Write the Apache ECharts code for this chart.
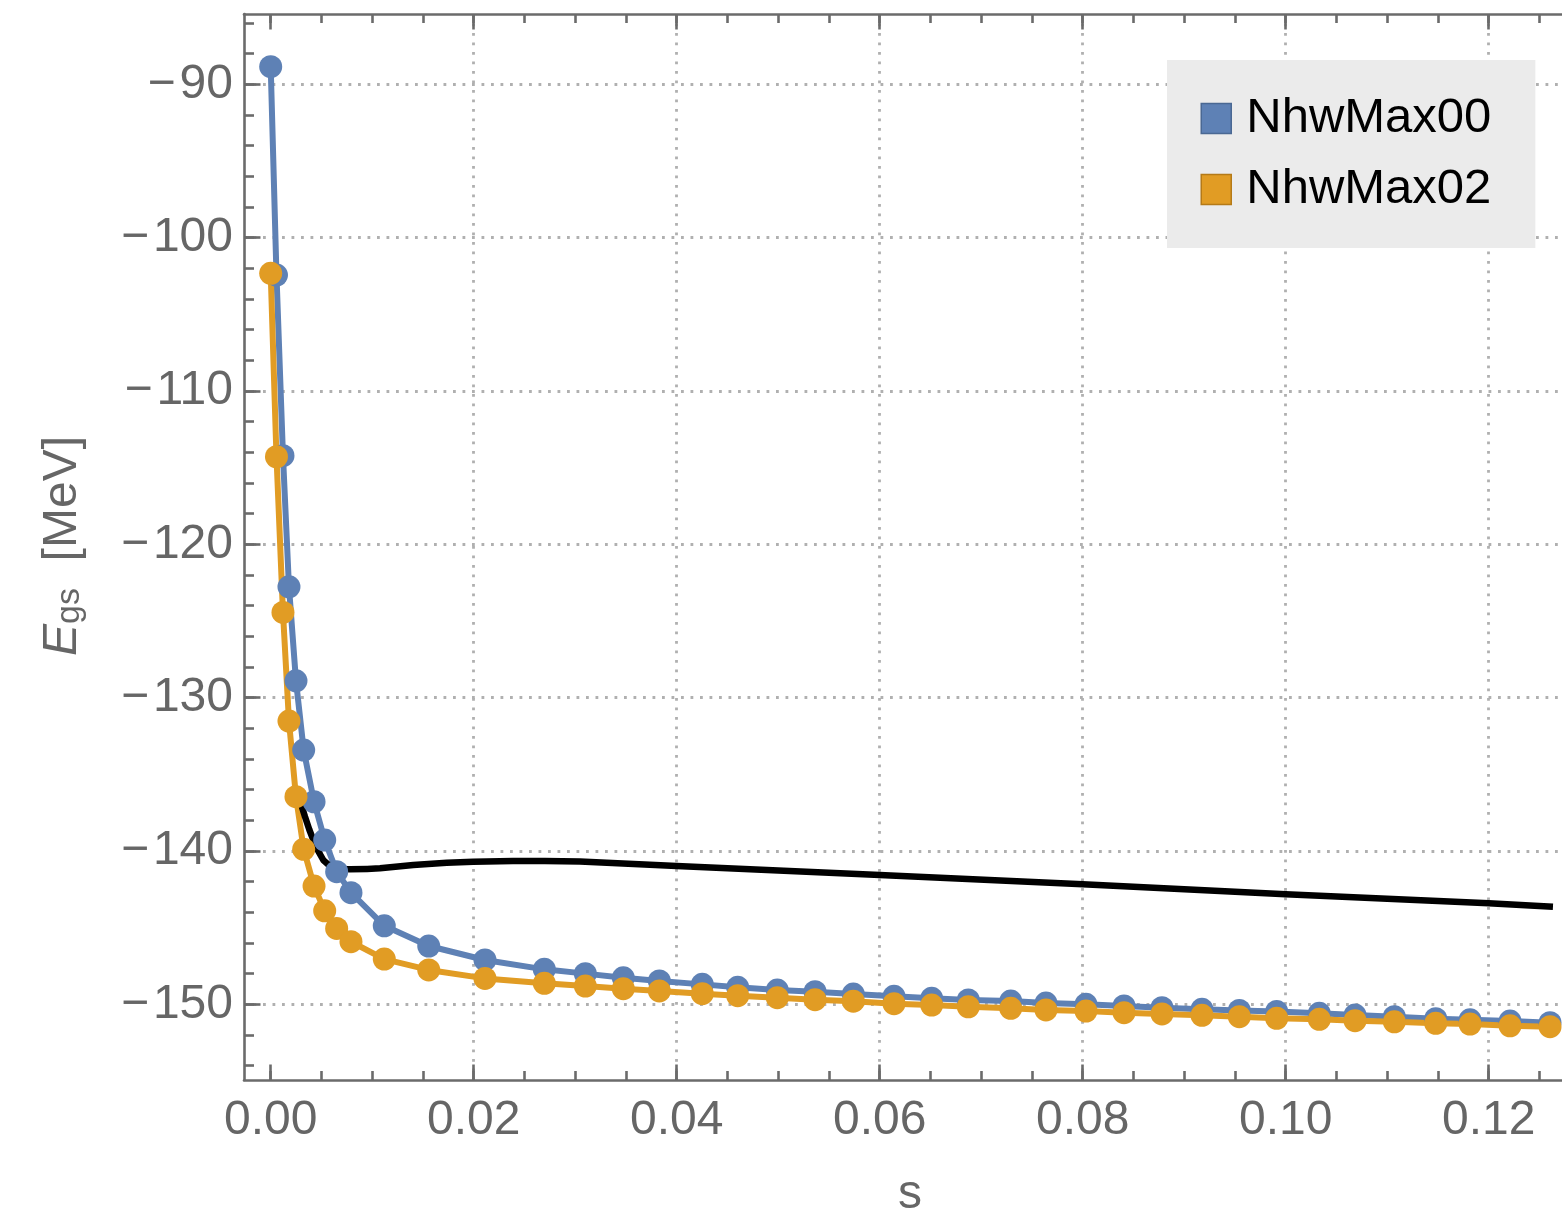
<!DOCTYPE html>
<html><head><meta charset="utf-8">
<script src="https://cdn.jsdelivr.net/npm/echarts@6/dist/echarts.min.js"></script>
<style>html,body{margin:0;padding:0;background:#fff}#c{width:1562px;height:1219px}</style>
</head><body><div id="c"></div>
<script>
// ---- data ----
const sValues = [0, 0.00057, 0.00121, 0.0018, 0.00249, 0.00325, 0.00427, 0.00532, 0.0065, 0.00791,
  0.01119, 0.01557, 0.02111, 0.02696, 0.031, 0.03474, 0.03829, 0.04252, 0.04601, 0.04991,
  0.05363, 0.0574, 0.06141, 0.06512, 0.06873, 0.07291, 0.07638, 0.08032, 0.08407, 0.08781,
  0.09175, 0.09543, 0.09911, 0.10331, 0.10683, 0.1107, 0.11478, 0.11816, 0.1221, 0.12604];
const nhwMax00 = [-88.85, -102.44, -114.22, -122.77, -128.90, -133.42, -136.79, -139.29, -141.35, -142.72,
  -144.88, -146.20, -147.11, -147.72, -148.00, -148.27, -148.48, -148.70, -148.89, -149.07,
  -149.18, -149.33, -149.48, -149.61, -149.72, -149.79, -149.92, -150.00, -150.11, -150.22,
  -150.33, -150.40, -150.47, -150.59, -150.70, -150.81, -150.94, -151.01, -151.09, -151.20];
const nhwMax02 = [-102.33, -114.29, -124.44, -131.53, -136.46, -139.89, -142.29, -143.90, -145.05, -145.92,
  -147.05, -147.76, -148.31, -148.63, -148.81, -148.98, -149.13, -149.31, -149.44, -149.57,
  -149.70, -149.80, -149.96, -150.05, -150.16, -150.26, -150.37, -150.44, -150.55, -150.63,
  -150.72, -150.81, -150.91, -150.98, -151.07, -151.14, -151.24, -151.29, -151.40, -151.46];
const sFit = [0.00289, 0.00338, 0.0038, 0.0042, 0.00465, 0.00518, 0.00565, 0.00617, 0.0070, 0.00781,
  0.0095, 0.01077, 0.01405, 0.01734, 0.01996, 0.02387, 0.02700, 0.03047, 0.04, 0.06, 0.08, 0.10, 0.12, 0.12633];
const eFit = [-136.72, -137.77, -138.6, -139.29, -139.97, -140.59, -140.88, -141.07, -141.17, -141.20,
  -141.17, -141.13, -140.92, -140.77, -140.70, -140.65, -140.65, -140.68, -140.98, -141.57, -142.17, -142.83, -143.41, -143.64];
const seriesNames = ['NhwMax00', 'NhwMax02'];
const xTickValues = [0, 0.02, 0.04, 0.06, 0.08, 0.10, 0.12];
const yTickValues = [-150, -140, -130, -120, -110, -100, -90];
const xMinorStep = 0.005;
const yMinorStep = 2;

// ---- layout / style ----
const FONT = '"Liberation Sans", Arial, Helvetica, sans-serif';
const AX = '#6b6b6b';
const LBL = '#666666';
const GRIDC = '#b0b0b0';
const plot = {left: 244, top: 14, right: 1562, bottom: 1080};
const xRange = [-0.00263, 0.12722];
const yRange = [-154.937, -85.415];
const xPx = v => plot.left + (v - xRange[0]) / (xRange[1] - xRange[0]) * (plot.right - plot.left);
const yPx = v => plot.bottom - (v - yRange[0]) / (yRange[1] - yRange[0]) * (plot.bottom - plot.top);

const pair = (xs, ys) => xs.map((x, i) => [x, ys[i]]);
const noAxis = (gi) => ({gridIndex: gi, type: 'value', show: false, min: 0, max: 1});

const xMajMin = xTickValues[0], xMajMax = xTickValues[xTickValues.length - 1];
const xMinMax = Math.floor(xRange[1] / xMinorStep) * xMinorStep;
const yMajMin = yTickValues[0], yMajMax = yTickValues[yTickValues.length - 1];
const yMinMin = Math.ceil(yRange[0] / yMinorStep) * yMinorStep;
const yMinMax = Math.floor(yRange[1] / yMinorStep) * yMinorStep;

const grids = [
  {left: plot.left, width: plot.right - plot.left, top: plot.top, height: plot.bottom - plot.top},
  {left: xPx(xMajMin), width: xPx(xMajMax) - xPx(xMajMin), top: plot.top, height: plot.bottom - plot.top},
  {left: xPx(0), width: xPx(xMinMax) - xPx(0), top: plot.top, height: plot.bottom - plot.top},
  {left: plot.left, width: plot.right - plot.left, top: yPx(yMajMax), height: yPx(yMajMin) - yPx(yMajMax)},
  {left: plot.left, width: plot.right - plot.left, top: yPx(yMinMax), height: yPx(yMinMin) - yPx(yMinMax)}
].map(g => Object.assign(g, {containLabel: false, outerBoundsMode: 'none'}));

const tickStyle = {color: AX, width: 2.6};
const dotted = {color: GRIDC, width: 2.8, type: [2.8, 6.7]};

const xAxes = [
  {gridIndex: 0, type: 'value', min: xRange[0], max: xRange[1], position: 'bottom',
   axisLine: {show: true, onZero: false, lineStyle: tickStyle}, axisTick: {show: false}, axisLabel: {show: false}, splitLine: {show: false}},
  {gridIndex: 0, type: 'value', min: xRange[0], max: xRange[1], position: 'top',
   axisLine: {show: true, onZero: false, lineStyle: tickStyle}, axisTick: {show: false}, axisLabel: {show: false}, splitLine: {show: false}},
  {gridIndex: 1, type: 'value', min: xMajMin, max: xMajMax, interval: 0.02, position: 'bottom',
   axisLine: {show: false, onZero: false}, axisTick: {show: true, inside: true, length: 15.5, lineStyle: tickStyle},
   axisLabel: {show: true, margin: 17, fontSize: 48, fontFamily: FONT, color: LBL, formatter: v => v.toFixed(2)},
   splitLine: {show: true, showMinLine: false, showMaxLine: true, lineStyle: dotted}},
  {gridIndex: 1, type: 'value', min: xMajMin, max: xMajMax, interval: 0.02, position: 'top',
   axisLine: {show: false, onZero: false}, axisTick: {show: true, inside: true, length: 15.5, lineStyle: tickStyle},
   axisLabel: {show: false}, splitLine: {show: false}},
  {gridIndex: 2, type: 'value', min: 0, max: xMinMax, interval: xMinorStep, position: 'bottom',
   axisLine: {show: false, onZero: false}, axisTick: {show: true, inside: true, length: 9, lineStyle: tickStyle},
   axisLabel: {show: false}, splitLine: {show: false}},
  {gridIndex: 2, type: 'value', min: 0, max: xMinMax, interval: xMinorStep, position: 'top',
   axisLine: {show: false, onZero: false}, axisTick: {show: true, inside: true, length: 9, lineStyle: tickStyle},
   axisLabel: {show: false}, splitLine: {show: false}},
  noAxis(3), noAxis(4)
];
const yAxes = [
  {gridIndex: 0, type: 'value', min: yRange[0], max: yRange[1], position: 'left',
   axisLine: {show: true, onZero: false, lineStyle: tickStyle}, axisTick: {show: false}, axisLabel: {show: false}, splitLine: {show: false}},
  noAxis(1), noAxis(2),
  {gridIndex: 3, type: 'value', min: yMajMin, max: yMajMax, interval: 10, position: 'left',
   axisLine: {show: false, onZero: false}, axisTick: {show: true, inside: true, length: 16.5, lineStyle: tickStyle},
   axisLabel: {show: true, margin: 11, fontSize: 48, fontFamily: FONT, color: LBL,
     formatter: v => (v < 0 ? '\u2212\u200A' : '') + Math.abs(v)},
   splitLine: {show: true, lineStyle: dotted}},
  {gridIndex: 4, type: 'value', min: yMinMin, max: yMinMax, interval: yMinorStep, position: 'left',
   axisLine: {show: false, onZero: false}, axisTick: {show: true, inside: true, length: 10, lineStyle: tickStyle},
   axisLabel: {show: false}, splitLine: {show: false}}
];

const BLUE = '#5E81B5', ORANGE = '#E19C24';
const option = {
  animation: false,
  backgroundColor: '#ffffff',
  grid: grids,
  xAxis: xAxes,
  yAxis: yAxes,
  legend: {
    orient: 'vertical', left: 1167, top: 60, padding: [34, 44, 34, 33.5], itemGap: 22,
    itemWidth: 30, itemHeight: 30, backgroundColor: '#EBEBEB', icon: 'rect', selectedMode: false,
    textStyle: {fontSize: 49, fontFamily: FONT, color: '#000', lineHeight: 49, padding: [0, 0, 0, 10]},
    data: [
      {name: seriesNames[0], itemStyle: {borderColor: '#4a6893', borderWidth: 1.5}},
      {name: seriesNames[1], itemStyle: {borderColor: '#b57a17', borderWidth: 1.5}}
    ]
  },
  graphic: [
    {type: 'text', x: 910, y: 1195, style: {text: 's', fontSize: 48, fontFamily: FONT, fill: LBL, align: 'center', verticalAlign: 'middle'}},
    {type: 'text', x: 63, y: 546, rotation: Math.PI / 2,
     style: {text: '{e|E}{sub|gs}  [MeV]', fontSize: 48, fontFamily: FONT, fill: LBL, lineHeight: 48,
       align: 'center', verticalAlign: 'middle',
       rich: {
         e: {fontSize: 48, fontStyle: 'italic', fontFamily: FONT, fill: LBL, lineHeight: 48},
         sub: {fontSize: 34, fontFamily: FONT, fill: LBL, lineHeight: 20, verticalAlign: 'bottom'}
       }}}
  ],
  series: [
    {name: seriesNames[0], type: 'line', xAxisIndex: 0, yAxisIndex: 0, data: pair(sValues, nhwMax00),
     symbol: 'circle', symbolSize: 23, showAllSymbol: true, lineStyle: {color: BLUE, width: 6},
     itemStyle: {color: BLUE}, emphasis: {disabled: true}},
    {name: seriesNames[1], type: 'line', xAxisIndex: 0, yAxisIndex: 0, data: pair(sValues, nhwMax02),
     symbol: 'circle', symbolSize: 23, showAllSymbol: true, lineStyle: {color: ORANGE, width: 6},
     itemStyle: {color: ORANGE}, emphasis: {disabled: true}},
    {name: 'fit', type: 'line', xAxisIndex: 0, yAxisIndex: 0, data: pair(sFit, eFit),
     showSymbol: false, symbol: 'none', smooth: false,
     lineStyle: {color: '#000000', width: 6.5, join: 'round'}, emphasis: {disabled: true}}
  ]
};
const chart = echarts.init(document.getElementById('c'), null, {renderer: 'canvas'});
chart.setOption(option);
</script>
</body></html>
